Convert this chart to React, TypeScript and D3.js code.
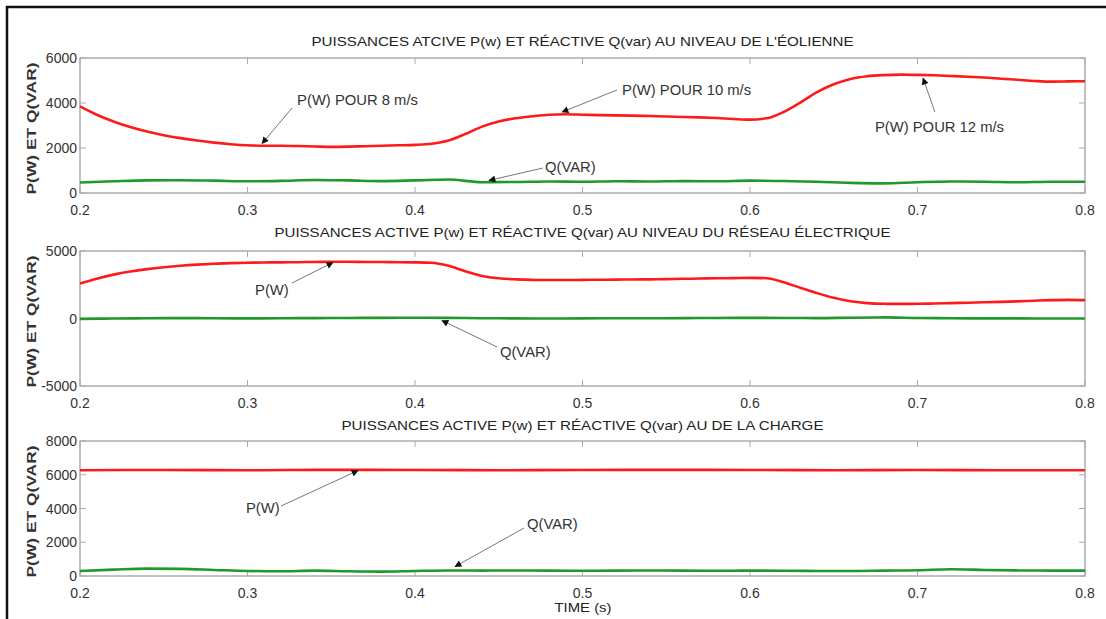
import React from 'react';
import * as d3 from 'd3';

// ---------- DATA ----------
const TIME_FINE = [0.20,0.21,0.22,0.23,0.24,0.25,0.26,0.27,0.28,0.29,0.30,0.31,0.32,0.33,0.34,0.35,0.36,0.37,0.38,0.39,0.40,0.41,0.42,0.43,0.44,0.45,0.46,0.47,0.48,0.49,0.50,0.51,0.52,0.53,0.54,0.55,0.56,0.57,0.58,0.59,0.60,0.61,0.62,0.63,0.64,0.65,0.66,0.67,0.68,0.69,0.70,0.71,0.72,0.73,0.74,0.75,0.76,0.77,0.78,0.79,0.80];
const TIME_COARSE = [0.20,0.22,0.24,0.26,0.28,0.30,0.32,0.34,0.36,0.38,0.40,0.42,0.44,0.46,0.48,0.50,0.52,0.54,0.56,0.58,0.60,0.62,0.64,0.66,0.68,0.70,0.72,0.74,0.76,0.78,0.80];
const TIME_FLAT = [0.20,0.25,0.30,0.35,0.40,0.45,0.50,0.55,0.60,0.65,0.70,0.75,0.80];

// Panel 1 : éolienne
const P_EOLIENNE = [3850,3480,3180,2930,2730,2570,2440,2330,2240,2170,2120,2100,2100,2090,2070,2050,2060,2080,2100,2120,2140,2190,2330,2620,2950,3180,3320,3410,3480,3500,3480,3460,3450,3440,3420,3400,3380,3360,3330,3290,3260,3320,3600,4020,4480,4830,5070,5190,5240,5260,5250,5230,5200,5170,5130,5080,5030,4980,4950,4960,4970];
const Q_EOLIENNE = [470,520,560,570,550,520,540,580,560,530,560,600,480,490,510,500,520,510,530,520,550,530,500,450,430,480,510,500,480,500,500];

// Panel 2 : réseau électrique
const P_RESEAU = [2600,2950,3250,3480,3660,3800,3910,3990,4050,4100,4130,4150,4160,4170,4190,4200,4200,4190,4180,4170,4160,4130,3900,3500,3150,2980,2900,2860,2850,2850,2860,2870,2880,2890,2900,2920,2940,2960,2980,2990,3010,2980,2680,2280,1880,1530,1280,1140,1090,1080,1090,1110,1140,1170,1200,1230,1270,1320,1360,1380,1360];
const Q_RESEAU = [-30,0,20,30,20,10,20,30,40,50,60,50,20,10,0,10,20,20,30,40,50,40,30,60,80,40,20,10,10,0,0];

// Panel 3 : charge
const P_CHARGE = [6270,6280,6270,6290,6280,6270,6280,6290,6280,6270,6280,6270,6270];
const Q_CHARGE = [300,380,440,420,360,300,280,320,280,260,300,330,320,330,320,310,320,330,320,310,320,310,300,300,320,340,400,360,330,320,320];

const X_TICKS = [0.2,0.3,0.4,0.5,0.6,0.7,0.8];
const Y_TICKS_1 = [0,2000,4000,6000];
const Y_TICKS_2 = [-5000,0,5000];
const Y_TICKS_3 = [0,2000,4000,6000,8000];

const TITLES = [
  "PUISSANCES ATCIVE P(w) ET RÉACTIVE Q(var) AU NIVEAU DE L'ÉOLIENNE",
  "PUISSANCES ACTIVE P(w) ET RÉACTIVE Q(var) AU NIVEAU DU RÉSEAU ÉLECTRIQUE",
  "PUISSANCES ACTIVE P(w) ET RÉACTIVE Q(var) AU DE LA CHARGE",
];
const Y_LABEL = 'P(W) ET Q(VAR)';
const X_LABEL = 'TIME (s)';

// annotations: [label, textT, textV, tailT, tailV, headT, headV]
type Ann = [string, number, number, number, number, number, number];
const ANN_1: Ann[] = [
  ['P(W) POUR 8 m/s', 0.3296, 4133, 0.3266, 3778, 0.3087, 2200],
  ['P(W) POUR 10 m/s', 0.5236, 4578, 0.5206, 4578, 0.4878, 3600],
  ['P(W) POUR 12 m/s', 0.6746, 2933, 0.7104, 3600, 0.7033, 5100],
  ['Q(VAR)', 0.4776, 1156, 0.4764, 1111, 0.4442, 560],
];
const ANN_2: Ann[] = [
  ['P(W)', 0.3045, 2111, 0.3266, 2630, 0.351, 4150],
  ['Q(VAR)', 0.4507, -2481, 0.449, -2111, 0.4161, -150],
];
const ANN_3: Ann[] = [
  ['P(W)', 0.2991, 4030, 0.32, 4148, 0.366, 6250],
  ['Q(VAR)', 0.4669, 3081, 0.4651, 2844, 0.4239, 560],
];

// ---------- LAYOUT ----------
const W = 1106, H = 619;
const LEFT = 80, RIGHT = 1085;
const FONT = "'Liberation Sans', Arial, sans-serif";

interface PanelSpec {
  top: number; bottom: number; domain: [number, number]; yTicks: number[];
  title: string; titleY: number; titleLen: number;
  p: { t: number[]; v: number[] }; q: { t: number[]; v: number[] }; ann: Ann[];
}

const PANELS: PanelSpec[] = [
  { top: 58, bottom: 193, domain: [0, 6000], yTicks: Y_TICKS_1, title: TITLES[0], titleY: 41, titleLen: 542,
    p: { t: TIME_FINE, v: P_EOLIENNE }, q: { t: TIME_COARSE, v: Q_EOLIENNE }, ann: ANN_1 },
  { top: 251, bottom: 386, domain: [-5000, 5000], yTicks: Y_TICKS_2, title: TITLES[1], titleY: 232, titleLen: 616,
    p: { t: TIME_FINE, v: P_RESEAU }, q: { t: TIME_COARSE, v: Q_RESEAU }, ann: ANN_2 },
  { top: 441, bottom: 576, domain: [0, 8000], yTicks: Y_TICKS_3, title: TITLES[2], titleY: 425, titleLen: 482,
    p: { t: TIME_FLAT, v: P_CHARGE }, q: { t: TIME_COARSE, v: Q_CHARGE }, ann: ANN_3 },
];

const x = d3.scaleLinear().domain([0.2, 0.8]).range([LEFT, RIGHT]);

function Panel({ spec }: { spec: PanelSpec }) {
  const y = d3.scaleLinear().domain(spec.domain).range([spec.bottom, spec.top]);
  const line = d3.line<[number, number]>().x(d => x(d[0])).y(d => y(d[1])).curve(d3.curveMonotoneX);
  const pData = spec.p.t.map((t, i) => [t, spec.p.v[i]] as [number, number]);
  const qData = spec.q.t.map((t, i) => [t, spec.q.v[i]] as [number, number]);
  const tick = 6;
  const mid = (spec.top + spec.bottom) / 2;
  return (
    <g>
      <text x={(LEFT + RIGHT) / 2} y={spec.titleY} textAnchor="middle" dominantBaseline="central"
        fontFamily={FONT} fontSize={13} fill="#222" textLength={spec.titleLen} lengthAdjust="spacingAndGlyphs">
        {spec.title}
      </text>
      <rect x={LEFT} y={spec.top} width={RIGHT - LEFT} height={spec.bottom - spec.top} fill="white" stroke="#a0a0a0" strokeWidth={1.3} />
      {X_TICKS.map(t => (
        <g key={'x' + t}>
          <line x1={x(t)} x2={x(t)} y1={spec.bottom} y2={spec.bottom - tick} stroke="#aaa" />
          <line x1={x(t)} x2={x(t)} y1={spec.top} y2={spec.top + tick} stroke="#aaa" />
          <text x={x(t)} y={spec.bottom + 17} textAnchor="middle" dominantBaseline="central"
            fontFamily={FONT} fontSize={14} fill="#333">{d3.format('.1f')(t)}</text>
        </g>
      ))}
      {spec.yTicks.map(v => (
        <g key={'y' + v}>
          <line x1={LEFT} x2={LEFT + tick} y1={y(v)} y2={y(v)} stroke="#aaa" />
          <line x1={RIGHT} x2={RIGHT - tick} y1={y(v)} y2={y(v)} stroke="#aaa" />
          <text x={LEFT - 3} y={y(v)} textAnchor="end" dominantBaseline="central"
            fontFamily={FONT} fontSize={14} fill="#333">{v}</text>
        </g>
      ))}
      <text transform={`translate(31,${mid + 3}) rotate(-90)`} textAnchor="middle" dominantBaseline="central"
        fontFamily={FONT} fontSize={13} fontWeight="bold" fill="#333" textLength={132} lengthAdjust="spacingAndGlyphs">
        {Y_LABEL}
      </text>
      <path d={line(qData) || ''} fill="none" stroke="#1f9a2a" strokeWidth={2.6} />
      <path d={line(pData) || ''} fill="none" stroke="#ff1a1a" strokeWidth={2.6} />
      {spec.ann.map(a => (
        <g key={a[0] + a[1]}>
          <line x1={x(a[3])} y1={y(a[4])} x2={x(a[5])} y2={y(a[6])} stroke="#666" strokeWidth={0.9} markerEnd="url(#arrowHead)" />
          <text x={x(a[1])} y={y(a[2])} dominantBaseline="central" fontFamily={FONT} fontSize={14.8} fill="#333">{a[0]}</text>
        </g>
      ))}
    </g>
  );
}

export default function App() {
  return (
    <svg width={W} height={H} style={{ position: 'absolute', left: 0, top: 0, background: 'white' }}>
      <defs>
        <marker id="arrowHead" viewBox="0 0 10 10" refX="9" refY="5" markerWidth="9" markerHeight="7"
          markerUnits="userSpaceOnUse" orient="auto">
          <path d="M0,0 L10,5 L0,10 z" fill="#111" />
        </marker>
      </defs>
      <rect x={0} y={0} width={W} height={H} fill="white" />
      <rect x={7} y={7} width={1200} height={700} fill="none" stroke="#111" strokeWidth={2.5} />
      {PANELS.map((p, i) => <Panel key={i} spec={p} />)}
      <text x={583} y={607} textAnchor="middle" dominantBaseline="central" fontFamily={FONT} fontSize={13} fill="#222"
        textLength={57} lengthAdjust="spacingAndGlyphs">{X_LABEL}</text>
    </svg>
  );
}
